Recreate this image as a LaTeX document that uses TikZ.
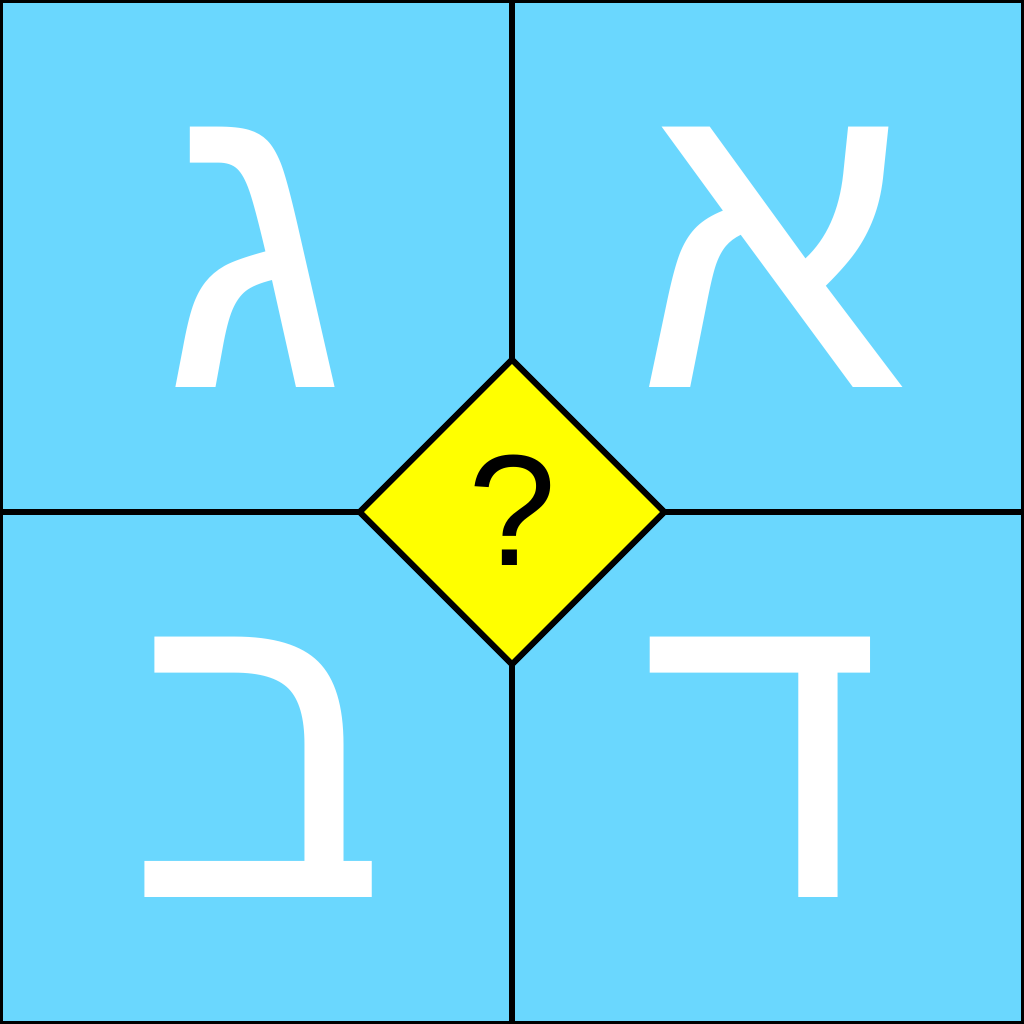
\documentclass[tikz,border=0pt]{standalone}
\usepackage{fontspec}
\setmainfont{Liberation Sans}
\newfontfamily\hebfont[Script=Hebrew]{Liberation Sans}
\usetikzlibrary{shapes.geometric}
\definecolor{quadblue}{RGB}{106,215,254}
\definecolor{qyellow}{RGB}{255,255,0}
\TeXXeTstate=1
\tikzset{
  letter/.style={text=white, inner sep=0pt, font=\hebfont},
  divider/.style={draw=black, line width=0.6mm},
}
\begin{document}
\begin{tikzpicture}[x=0.01cm,y=-0.01cm]
\useasboundingbox (0,0) rectangle (1024,1024);
\fill[quadblue] (0,0) rectangle (1024,1024);
\coordinate (top) at (512,0);
\coordinate (bottom) at (512,1024);
\coordinate (left) at (0,512);
\coordinate (right) at (1024,512);
\draw[divider] (top) -- (bottom);
\draw[divider] (left) -- (right);
\draw[line width=0.5mm] (0.25,0.25) rectangle (1023.75,1023.75);
\node[diamond, draw=black, line width=0.6mm, fill=qyellow, minimum width=3.07cm, minimum height=3.07cm, inner sep=0pt, font=\fontsize{45pt}{45pt}\selectfont] (q) at (512,512) {\raisebox{0.3mm}{?}};
\node[letter] (gimel) at (254,257) {\resizebox{!}{2.6cm}{\beginR ג\endR}};
\node[letter] (aleph) at (772,257) {\resizebox{!}{2.6cm}{\beginR א\endR}};
\node[letter] (bet) at (258,767) {\resizebox{!}{2.6cm}{\beginR ב\endR}};
\node[letter] (dalet) at (762,767) {\resizebox{!}{2.6cm}{\beginR ד\endR}};
\end{tikzpicture}
\end{document}
